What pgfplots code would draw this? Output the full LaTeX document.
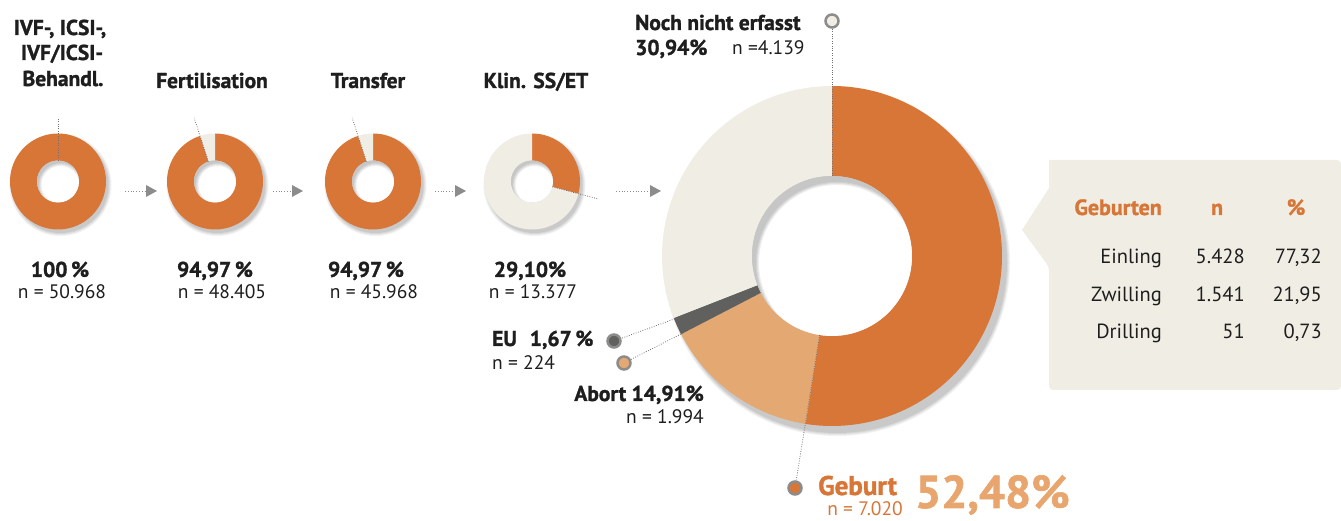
\documentclass[border=0pt]{standalone}
\usepackage{pgfplots}
\pgfplotsset{compat=1.18}
\usetikzlibrary{calc}
\usepackage{fontspec}
\setmainfont{PT Sans}[BoldFeatures={FakeBold=1.3}]

\definecolor{orA}{RGB}{216,118,56}
\definecolor{orB}{RGB}{228,168,114}
\definecolor{cream}{RGB}{240,238,228}
\definecolor{eugray}{RGB}{96,97,95}
\definecolor{lgray}{RGB}{140,140,140}
\definecolor{bigpct}{RGB}{232,166,110}
\definecolor{txt}{RGB}{30,30,30}

% one donut slice: cx cy rin rout p0 p1 colour (percent, clockwise from 12 o'clock)
\newcommand{\slice}[7]{%
  \fill[#7] ($(axis cs:#1,#2)+({90-3.6*(#5)}:#4pt)$)
    arc[start angle={90-3.6*(#5)}, end angle={90-3.6*(#6)}, radius=#4pt]
    -- ($(axis cs:#1,#2)+({90-3.6*(#6)}:#3pt)$)
    arc[start angle={90-3.6*(#6)}, end angle={90-3.6*(#5)}, radius=#3pt] -- cycle;}
% soft drop shadow: cx cy rout dx dy
\newcommand{\ringshadow}[5]{%
  \fill[black, opacity=0.05] ($(axis cs:#1,#2)+(#4pt,#5pt)$) circle[radius=#3pt+3pt];
  \fill[black, opacity=0.05] ($(axis cs:#1,#2)+(#4pt,#5pt)$) circle[radius=#3pt+2pt];
  \fill[black, opacity=0.06] ($(axis cs:#1,#2)+(#4pt,#5pt)$) circle[radius=#3pt+1pt];
  \fill[black, opacity=0.07] ($(axis cs:#1,#2)+(#4pt,#5pt)$) circle[radius=#3pt];}
% white hole with inner shadow: cx cy rin dx dy
\newcommand{\hole}[5]{%
  \fill[white] (axis cs:#1,#2) circle[radius=#3pt];
  \begin{scope}
    \clip (axis cs:#1,#2) circle[radius=#3pt];
    \fill[black, opacity=0.06, even odd rule] (axis cs:#1,#2) circle[radius=#3pt+30pt]
      ($(axis cs:#1,#2)+(#4pt,#5pt)$) circle[radius=#3pt+1pt];
    \fill[black, opacity=0.06, even odd rule] (axis cs:#1,#2) circle[radius=#3pt+30pt]
      ($(axis cs:#1,#2)+(#4pt,#5pt)$) circle[radius=#3pt];
    \fill[black, opacity=0.06, even odd rule] (axis cs:#1,#2) circle[radius=#3pt+30pt]
      ($(axis cs:#1,#2)+(#4pt,#5pt)$) circle[radius=#3pt-1pt];
    \fill[black, opacity=0.06, even odd rule] (axis cs:#1,#2) circle[radius=#3pt+30pt]
      ($(axis cs:#1,#2)+(#4pt,#5pt)$) circle[radius=#3pt-2pt];
  \end{scope}}
% dotted arrow between the small donuts: x0 x1 (tip) y
\newcommand{\flowarrow}[3]{%
  \draw[lgray, line width=0.8pt, dash pattern=on 0.8pt off 2pt] (axis cs:#1,#3) -- (axis cs:#2-11,#3);
  \fill[lgray] (axis cs:#2-11,#3+6) -- (axis cs:#2,#3) -- (axis cs:#2-11,#3-6) -- cycle;}

\tikzset{leader/.style={lgray!80!black, line width=0.8pt, dash pattern=on 0.8pt off 1.6pt}}
\newcommand{\hd}{\fontsize{21.5}{24}\selectfont\bfseries}
\newcommand{\nn}{\fontsize{19.5}{21}\selectfont}
\newcommand{\tb}{\fontsize{20.5}{22}\selectfont}
\newcommand{\nodepth}[1]{\raisebox{0pt}[\height][0pt]{#1}}

\begin{document}
\begin{tikzpicture}
\begin{axis}[
    x=1pt, y=1pt,
    xmin=0, xmax=1341, ymin=-521, ymax=0,
    hide axis, clip=false,
  ]
  \coordinate (bbsw) at (axis cs:0,-521);
  \coordinate (bbne) at (axis cs:1341,0);
  % ---------- small donuts: orange share in percent ----------
  % centres at y=-181.5, r_out 48, r_in 21
  \ringshadow{58}{-181.5}{48}{2.5}{-3.5}
  \ringshadow{215}{-181.5}{48}{2.5}{-3.5}
  \ringshadow{373}{-181.5}{48}{2.5}{-3.5}
  \ringshadow{532}{-181.5}{48}{2.5}{-3.5}

  \slice{58}{-181.5}{21}{48}{0}{100}{orA}

  \slice{215}{-181.5}{21}{48}{0}{94.97}{orA}
  \slice{215}{-181.5}{21}{48}{94.97}{100}{cream}

  \slice{373}{-181.5}{21}{48}{0}{94.97}{orA}
  \slice{373}{-181.5}{21}{48}{94.97}{100}{cream}

  \slice{532}{-181.5}{21}{48}{0}{29.10}{orA}
  \slice{532}{-181.5}{21}{48}{29.10}{100}{cream}

  \hole{58}{-181.5}{21}{2.5}{-3.5}
  \hole{215}{-181.5}{21}{2.5}{-3.5}
  \hole{373}{-181.5}{21}{2.5}{-3.5}
  \hole{532}{-181.5}{21}{2.5}{-3.5}

  % leader lines of the small donuts
  \draw[leader] ($(axis cs:58,-181.5)+(90:21pt)$) -- ($(axis cs:58,-181.5)+(90:64pt)$);
  \draw[leader] ($(axis cs:215,-181.5)+(108.1:21pt)$) -- ($(axis cs:215,-181.5)+(108.1:67pt)$);
  \draw[leader] ($(axis cs:373,-181.5)+(108.1:21pt)$) -- ($(axis cs:373,-181.5)+(108.1:67pt)$);
  \draw[leader] ($(axis cs:532,-181.5)+(-14.76:21pt)$) -- ($(axis cs:532,-181.5)+(-14.76:68pt)$);

  \flowarrow{125}{157}{-191}
  \flowarrow{273}{303}{-191}
  \flowarrow{435}{466}{-191}
  \flowarrow{616}{661}{-191}

  % ---------- big donut ----------
  \ringshadow{832}{-256}{170}{5}{-7}
  \slice{832}{-256}{80}{170}{0}{52.48}{orA}
  \slice{832}{-256}{80}{170}{52.48}{67.39}{orB}
  \slice{832}{-256}{80}{170}{67.39}{69.06}{eugray}
  \slice{832}{-256}{80}{170}{69.06}{100}{cream}
  \hole{832}{-256}{80}{5}{-7}

  \draw[leader] (axis cs:832,-176) -- (axis cs:832,-28);
  \draw[leader] ($(axis cs:832,-256)+(-98.93:80pt)$) -- (axis cs:795,-488);
  \draw[leader] (axis cs:677,-318) -- (axis cs:614,-341);
  \draw[leader] (axis cs:683,-333) -- (axis cs:624,-363);

  \addplot[only marks, mark=*, mark size=6.5pt,
    mark options={draw=lgray, line width=2.5pt, fill=cream}] coordinates {(832,-21)};
  \addplot[only marks, mark=*, mark size=6.5pt,
    mark options={draw=lgray, line width=2.5pt, fill=eugray}] coordinates {(614,-341)};
  \addplot[only marks, mark=*, mark size=6.5pt,
    mark options={draw=lgray, line width=2.5pt, fill=orB}] coordinates {(624,-363)};
  \addplot[only marks, mark=*, mark size=6.5pt,
    mark options={draw=lgray, line width=2.5pt, fill=orA}] coordinates {(795,-488)};

  % ---------- headings ----------
  \node[anchor=base, font=\hd, text=txt, inner sep=0] at (axis cs:60,-35) {IVF-, ICSI-,};
  \node[anchor=base, font=\hd, text=txt, inner sep=0] at (axis cs:62,-60) {IVF/ICSI-};
  \node[anchor=base, font=\hd, text=txt, inner sep=0] at (axis cs:63,-86) {Behandl.};
  \node[anchor=base, font=\hd, text=txt, inner sep=0] at (axis cs:212,-88) {Fertilisation};
  \node[anchor=base, font=\hd, text=txt, inner sep=0] at (axis cs:368,-88) {Transfer};
  \node[anchor=base, font=\hd, text=txt, inner sep=0] at (axis cs:536,-88) {Klin. SS/ET};

  % ---------- values under the small donuts ----------
  \node[anchor=base, font=\hd, text=txt, inner sep=0] at (axis cs:60,-277) {100\,\%};
  \node[anchor=base, font=\nn, text=txt, inner sep=0] at (axis cs:62,-299) {n = 50.968};
  \node[anchor=base, font=\hd, text=txt, inner sep=0] at (axis cs:215,-277) {94,97\,\%};
  \node[anchor=base, font=\nn, text=txt, inner sep=0] at (axis cs:222,-299) {n = 48.405};
  \node[anchor=base, font=\hd, text=txt, inner sep=0] at (axis cs:366,-277) {94,97\,\%};
  \node[anchor=base, font=\nn, text=txt, inner sep=0] at (axis cs:374,-299) {n = 45.968};
  \node[anchor=base, font=\hd, text=txt, inner sep=0] at (axis cs:530,-277) {29,10\%};
  \node[anchor=base, font=\nn, text=txt, inner sep=0] at (axis cs:533,-299) {n = 13.377};

  % ---------- big donut labels ----------
  \node[anchor=base west, font=\hd, text=txt, inner sep=0] at (axis cs:635,-30) {Noch nicht erfasst};
  \node[anchor=base west, font=\hd, text=txt, inner sep=0] at (axis cs:635,-55) {30,94\%};
  \node[anchor=base west, font=\nn, text=txt, inner sep=0] at (axis cs:732,-55) {n =4.139};

  \node[anchor=base west, font=\hd, text=txt, inner sep=0] at (axis cs:492,-346) {EU\hspace{0.6em}1,67\,\%};
  \node[anchor=base west, font=\nn, text=txt, inner sep=0] at (axis cs:492,-370) {n = 224};
  \node[anchor=base east, font=\hd, text=txt, inner sep=0] at (axis cs:704,-401) {Abort 14,91\%};
  \node[anchor=base east, font=\nn, text=txt, inner sep=0] at (axis cs:704,-424) {n = 1.994};

  \node[anchor=base west, font=\fontsize{27}{28}\selectfont\bfseries, text=orA, inner sep=0] at (axis cs:818,-495) {Geburt};
  \node[anchor=base east, font=\nn, text=orA, inner sep=0] at (axis cs:903,-516) {\nodepth{n = 7.020}};
  \node[anchor=base west, font=\fontsize{46}{50}\selectfont\bfseries, text=bigpct, inner sep=0] at (axis cs:915,-508) {\nodepth{52,48\%}};

  % ---------- Geburten table ----------
  \fill[cream, rounded corners=4pt] (axis cs:1049,-160) -- (axis cs:1341,-160) -- (axis cs:1341,-390)
    -- (axis cs:1049,-390) -- (axis cs:1049,-267) [sharp corners] -- (axis cs:1022,-230) -- (axis cs:1049,-188) -- cycle;
  \node[anchor=base east, font=\fontsize{22}{24}\selectfont\bfseries, text=orA, inner sep=0] at (axis cs:1162,-215) {Geburten};
  \node[anchor=base, font=\fontsize{22}{24}\selectfont\bfseries, text=orA, inner sep=0] at (axis cs:1217,-215) {n};
  \node[anchor=base, font=\fontsize{22}{24}\selectfont\bfseries, text=orA, inner sep=0] at (axis cs:1296,-215) {\%};

  \node[anchor=base east, font=\tb, text=txt, inner sep=0] at (axis cs:1162,-264) {Einling};
  \node[anchor=base east, font=\tb, text=txt, inner sep=0] at (axis cs:1245,-264) {5.428};
  \node[anchor=base east, font=\tb, text=txt, inner sep=0] at (axis cs:1322,-264) {77,32};
  \node[anchor=base east, font=\tb, text=txt, inner sep=0] at (axis cs:1162,-302) {Zwilling};
  \node[anchor=base east, font=\tb, text=txt, inner sep=0] at (axis cs:1245,-302) {1.541};
  \node[anchor=base east, font=\tb, text=txt, inner sep=0] at (axis cs:1322,-302) {21,95};
  \node[anchor=base east, font=\tb, text=txt, inner sep=0] at (axis cs:1162,-339) {Drilling};
  \node[anchor=base east, font=\tb, text=txt, inner sep=0] at (axis cs:1245,-339) {51};
  \node[anchor=base east, font=\tb, text=txt, inner sep=0] at (axis cs:1322,-339) {0,73};
\end{axis}
\pgfresetboundingbox
\path[use as bounding box] (bbsw) rectangle (bbne);
\end{tikzpicture}
\end{document}
